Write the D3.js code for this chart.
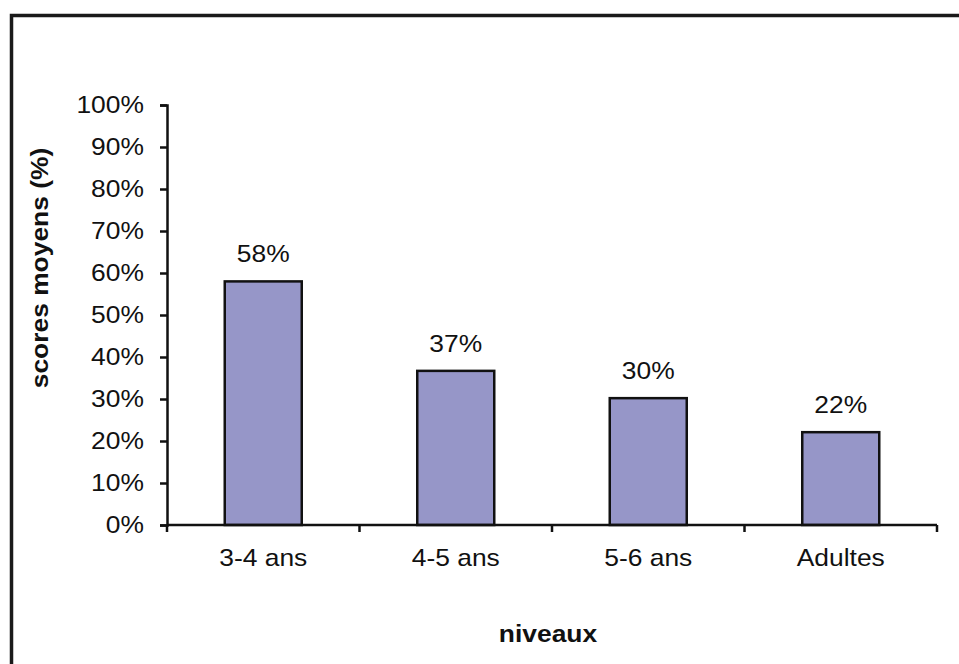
<!DOCTYPE html>
<html>
<head>
<meta charset="utf-8">
<script src="https://cdn.jsdelivr.net/npm/d3@7"></script>
<style>
html,body{margin:0;padding:0;background:#fff;}
svg{display:block;}
text{font-family:"Liberation Sans",Arial,sans-serif;fill:#111;}
</style>
</head>
<body>
<svg id="chart" width="959" height="664"></svg>
<script>
const categories = ["3-4 ans", "4-5 ans", "5-6 ans", "Adultes"];
const values = [0.58, 0.367, 0.302, 0.221];
const valueLabels = ["58%", "37%", "30%", "22%"];
const yTicks = [0, 0.1, 0.2, 0.3, 0.4, 0.5, 0.6, 0.7, 0.8, 0.9, 1.0];
const yTitle = "scores moyens (%)";
const xTitle = "niveaux";

const svg = d3.select("#chart");
const W = 959, H = 664;
const m = {left: 167, right: 22, top: 105, bottom: 139};
const SX = 1.1; // horizontal stretch of the reference's lettering

// outer frame (extends beyond the right and bottom edges)
svg.append("rect")
  .attr("x", 11.5).attr("y", 15.5)
  .attr("width", 1000).attr("height", 1000)
  .attr("fill", "none").attr("stroke", "#1a1a1a").attr("stroke-width", 3.5);

const x = d3.scaleBand().domain(categories)
  .range([m.left, W - m.right]).paddingInner(0.6).paddingOuter(0.3);
const y = d3.scaleLinear().domain([0, 1]).range([H - m.bottom, m.top]);

// bars
svg.append("g").selectAll("rect").data(values).join("rect")
  .attr("x", (d, i) => x(categories[i]))
  .attr("y", d => y(d))
  .attr("width", x.bandwidth())
  .attr("height", d => y(0) - y(d))
  .attr("fill", "#9696c8")
  .attr("stroke", "#111").attr("stroke-width", 2.5);

// value labels
svg.append("g").selectAll("text").data(values).join("text")
  .attr("transform", (d, i) =>
    `translate(${x(categories[i]) + x.bandwidth() / 2},${y(d) - 19}) scale(${SX},1)`)
  .attr("text-anchor", "middle")
  .style("font-size", "24px")
  .text((d, i) => valueLabels[i]);

// y axis
const yAxis = d3.axisLeft(y).tickValues(yTicks).tickFormat(d3.format(".0%"))
  .tickSize(7).tickPadding(14);
const gy = svg.append("g").attr("transform", `translate(${m.left},0)`).call(yAxis);
gy.select(".domain").attr("stroke", "#111").attr("stroke-width", 2.5);
gy.selectAll(".tick line").attr("stroke", "#111").attr("stroke-width", 2.5);
gy.selectAll(".tick text").style("font-size", "24px")
  .style("font-family", '"Liberation Sans",Arial,sans-serif').attr("fill", "#111")
  .attr("transform", `scale(${SX},1)`);

// x axis with ticks at band boundaries
const gx = svg.append("g").attr("transform", `translate(0,${H - m.bottom})`);
const step = x.step();
const boundaries = categories.map((c, i) => m.left + i * step).concat([W - m.right]);
gx.append("line").attr("x1", m.left).attr("x2", W - m.right)
  .attr("stroke", "#111").attr("stroke-width", 2.5);
gx.selectAll("line.tk").data(boundaries).join("line").attr("class", "tk")
  .attr("x1", d => d).attr("x2", d => d).attr("y1", 0).attr("y2", 7)
  .attr("stroke", "#111").attr("stroke-width", 2.5);
gx.selectAll("text").data(categories).join("text")
  .attr("transform", d => `translate(${x(d) + x.bandwidth() / 2},41) scale(${SX},1)`)
  .attr("text-anchor", "middle")
  .style("font-size", "24px")
  .text(d => d);

// titles
svg.append("text")
  .attr("transform", `translate(48,268) rotate(-90) scale(${SX},1)`)
  .attr("text-anchor", "middle")
  .style("font-size", "24px").style("font-weight", "bold")
  .text(yTitle);
svg.append("text")
  .attr("transform", `translate(548,642) scale(${SX},1)`)
  .attr("text-anchor", "middle")
  .style("font-size", "24px").style("font-weight", "bold")
  .text(xTitle);
</script>
</body>
</html>
